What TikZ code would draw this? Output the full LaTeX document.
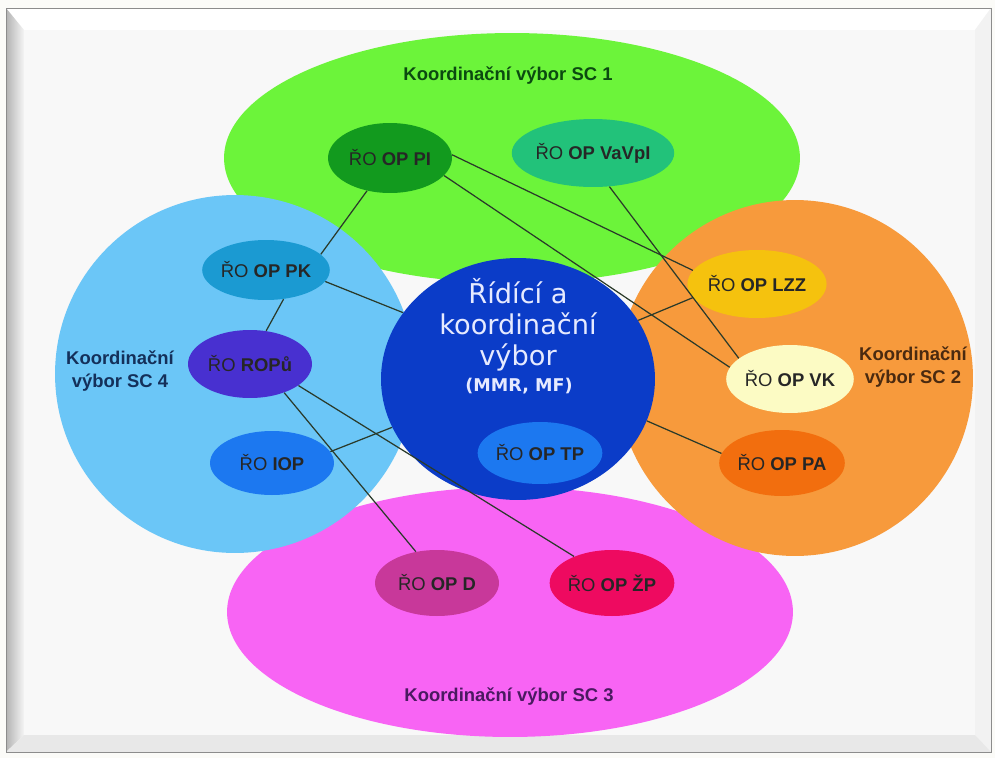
\documentclass[tikz,border=0pt]{standalone}
\usepackage{fontspec}
\setmainfont{Liberation Sans}
\newfontfamily\dejavu{DejaVu Sans}
\usetikzlibrary{shapes.geometric}
\definecolor{pagebg}{HTML}{FBFBF8}
\definecolor{panel}{HTML}{F8F8F8}
\definecolor{cgreen}{HTML}{6CF43A}
\definecolor{cmag}{HTML}{F864F4}
\definecolor{clblue}{HTML}{6BC6F7}
\definecolor{corange}{HTML}{F79A3C}
\definecolor{ccenter}{HTML}{0B3CC8}
\definecolor{cpi}{HTML}{129A1E}
\definecolor{cvav}{HTML}{22C27A}
\definecolor{cpk}{HTML}{1B9AD2}
\definecolor{crop}{HTML}{4830D0}
\definecolor{ciop}{HTML}{1C78F0}
\definecolor{clzz}{HTML}{F5C20E}
\definecolor{cvk}{HTML}{FCFBC4}
\definecolor{cpa}{HTML}{F26E0E}
\definecolor{cd}{HTML}{C8389A}
\definecolor{czp}{HTML}{EE0A60}
\definecolor{linkc}{HTML}{2A3A2A}
\definecolor{tsc1}{HTML}{0B4A10}
\definecolor{tsc2}{HTML}{4A2A10}
\definecolor{tsc3}{HTML}{4A1A60}
\definecolor{tsc4}{HTML}{14305A}
\definecolor{tcenter}{HTML}{E6EAFF}
\newcommand\rolab[1]{ŘO \textbf{#1}}
\tikzset{
  big/.style={ellipse, inner sep=0pt, draw=none},
  sm/.style={ellipse, inner sep=0pt, draw=none, minimum width=2.48cm,
    font=\fontsize{10.5}{12}\selectfont, text=black!85},
  link/.style={draw=linkc, line width=0.7pt},
  lab/.style={font=\bfseries\fontsize{10.5}{13}\selectfont, align=center}
}
\begin{document}
\begin{tikzpicture}[x=0.02cm,y=-0.02cm]
\useasboundingbox (0,0) rectangle (995,758);
% frame
\fill[pagebg] (0,0) rectangle (995,758);
\fill[white] (6,8) -- (991,8) -- (975,30) -- (24,30) -- cycle;
\shade[left color=black!30, right color=black!4] (6,8) -- (24,30) -- (24,735) -- (6,752) -- cycle;
\fill[black!5] (991,8) -- (975,30) -- (975,735) -- (991,752) -- cycle;
\fill[black!9] (6,752) -- (24,735) -- (975,735) -- (991,752) -- cycle;
\draw[black!45, line width=0.4pt] (6,8) rectangle (991,752);
\fill[panel] (24,30) rectangle (975,735);
% big ellipses
\node[big, fill=cgreen, minimum width=11.52cm, minimum height=5.0cm] (sc1) at (512,158) {};
\node[big, fill=cmag, minimum width=11.32cm, minimum height=5.0cm] (sc3) at (510,612) {};
\node[big, fill=clblue, minimum width=7.2cm, minimum height=7.16cm] (sc4) at (235,374) {};
\node[big, fill=corange, minimum width=7.12cm, minimum height=7.12cm] (sc2) at (795,378) {};
\node[big, fill=ccenter, minimum width=5.48cm, minimum height=4.84cm] (rkv) at (518,379) {};
% labels
\node[lab, text=tsc1] (l1) at (508,76) {Koordinační výbor SC 1};
\node[lab, text=tsc4] (l4) at (120,371) {Koordinační\\výbor SC 4};
\node[lab, text=tsc2] (l2) at (913,367) {Koordinační\\výbor SC 2};
\node[lab, text=tsc3] (l3) at (509,697) {Koordinační výbor SC 3};
\node[align=center, text=tcenter, font=\dejavu\fontsize{15.5}{17.6}\selectfont] (ctext) at (518,325)
  {Řídící a\\koordinační\\výbor};
\node[text=tcenter, font=\dejavu\bfseries\fontsize{10}{12}\selectfont] (cmf) at (519,386) {(MMR, MF)};
% small ellipses
\node[sm, fill=cpi, minimum height=1.40cm] (pi) at (390,158) {\rolab{OP PI}};
\node[sm, fill=cvav, minimum width=3.12cm, minimum height=1.36cm] (vav) at (593,153) {\rolab{OP VaVpI}};
\node[sm, fill=cpk, minimum height=1.20cm] (pk) at (266,270) {\rolab{OP PK}};
\node[sm, fill=crop, minimum height=1.36cm] (rop) at (250,364) {\rolab{ROPů}};
\node[sm, fill=ciop, minimum height=1.28cm] (iop) at (272,463) {\rolab{IOP}};
\node[sm, fill=clzz, minimum height=1.36cm] (lzz) at (757,284) {\rolab{OP LZZ}};
\node[sm, fill=cvk, minimum height=1.36cm] (vk) at (790,379) {\rolab{OP VK}};
\node[sm, fill=cpa, minimum height=1.32cm] (pa) at (782,463) {\rolab{OP PA}};
\node[sm, fill=ciop, minimum height=1.24cm] (tp) at (540,453) {\rolab{OP TP}};
\node[sm, fill=cd, minimum height=1.32cm] (opd) at (437,583) {\rolab{OP D}};
\node[sm, fill=czp, minimum width=2.32cm, minimum height=1.32cm] (zp) at (612,583) {\rolab{OP ŽP}};
% connectors
\draw[link] (pi.235) -- (pk.16);
\draw[link] (pi.3) -- (lzz.168);
\draw[link] (pi.342) -- (vk.169);
\draw[link] (vav.296) -- (vk.158);
\draw[link] (lzz.192) -- (rkv.26);
\draw[link] (pa.171) -- (rkv.342);
\draw[link] (pk.349) -- (rkv.150);
\draw[link] (pk.301) -- (rop.64);
\draw[link] (iop.11) -- (rkv.201);
\draw[link] (rop.320) -- (opd.124);
\draw[link] (rop.336) -- (zp.145);
\end{tikzpicture}
\end{document}
